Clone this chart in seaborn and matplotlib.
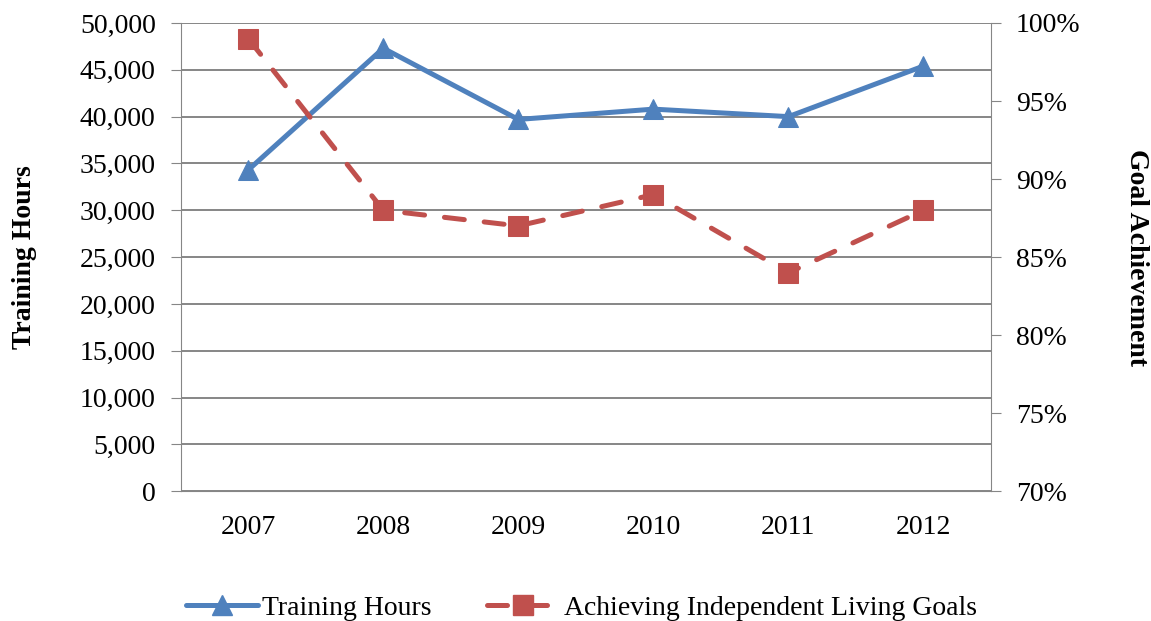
import numpy as np
import pandas as pd
import matplotlib
matplotlib.use("Agg")
import matplotlib.pyplot as plt
from matplotlib.ticker import FuncFormatter, MultipleLocator
from matplotlib.lines import Line2D
import seaborn as sns

years = ["2007", "2008", "2009", "2010", "2011", "2012"]
training_hours = [34300, 47300, 39700, 40800, 40000, 45400]
goal_pct = [99, 88, 87, 89, 84, 88]

blue = "#4F81BD"
red = "#C0504D"
grey = "#868686"

sns.set_style("white")
plt.rcParams["font.family"] = ["Liberation Serif", "DejaVu Serif"]
plt.rcParams["text.color"] = "black"
plt.rcParams["axes.labelcolor"] = "black"
plt.rcParams["xtick.labelcolor"] = "black"
plt.rcParams["ytick.labelcolor"] = "black"

df = pd.DataFrame({"Year": years, "Hours": training_hours, "Goal": goal_pct})
df["x"] = np.arange(len(years))

fig = plt.figure(figsize=(11.51, 6.21), dpi=100)
ax = fig.add_axes([0.157, 0.209, 0.704, 0.754])
ax2 = ax.twinx()

sns.lineplot(data=df, x="x", y="Hours", ax=ax, color=blue, lw=3.6,
             marker="^", markersize=14, markeredgecolor=blue, zorder=3)
sns.lineplot(data=df, x="x", y="Goal", ax=ax2, color=red, lw=3.6,
             marker="s", markersize=14, markeredgecolor=red,
             dashes=(4, 4), dash_capstyle="round", zorder=3)

ax.set_xlim(-0.5, len(years) - 0.5)
ax.set_ylim(0, 50000)
ax2.set_ylim(70, 100)
ax.yaxis.set_major_locator(MultipleLocator(5000))
ax2.yaxis.set_major_locator(MultipleLocator(5))
ax.yaxis.set_major_formatter(FuncFormatter(lambda v, p: f"{int(v):,}"))
ax2.yaxis.set_major_formatter(FuncFormatter(lambda v, p: f"{int(v)}%"))

# ticks sit between the years, labels centred on them
ax.set_xticks(np.arange(-0.5, len(years)), minor=False)
ax.set_xticklabels([])
ax.set_xticks(np.arange(len(years)), minor=True)
ax.set_xticklabels(years, minor=True)
ax.tick_params(axis="x", which="major", length=6, color=grey, width=1)
ax.tick_params(axis="x", which="minor", length=0, labelsize=20, pad=17)
ax.tick_params(axis="y", length=7, color=grey, labelsize=20, pad=11)
ax2.tick_params(axis="y", length=7, color=grey, labelsize=20, pad=11)

ax.yaxis.grid(True, color=grey, lw=1.4)
ax.set_axisbelow(True)
for a in (ax, ax2):
    for s in a.spines.values():
        s.set_visible(False)
ax.spines["left"].set_visible(True)
ax.spines["left"].set_color(grey)
ax.spines["bottom"].set_visible(True)
ax.spines["bottom"].set_color(grey)
ax2.spines["right"].set_visible(True)
ax2.spines["right"].set_color(grey)

ax.set_xlabel("")
ax.set_ylabel("Training Hours", fontsize=20, fontweight="bold", labelpad=31)
ax2.set_ylabel("Goal Achievement", fontsize=20, fontweight="bold",
               rotation=270, labelpad=49)

handles = [
    Line2D([], [], color=blue, lw=3.6, marker="^", markersize=14),
    Line2D([], [], color=red, lw=3.6, marker="s", markersize=14,
           dashes=(4, 4), dash_capstyle="round"),
]
fig.legend(handles, ["Training Hours", "Achieving Independent Living Goals"],
           loc="lower center", bbox_to_anchor=(0.505, -0.04), ncol=2,
           frameon=False, fontsize=20, handlelength=2.6, columnspacing=2.0,
           handletextpad=0.15)

fig.savefig("out.png", dpi=100)
